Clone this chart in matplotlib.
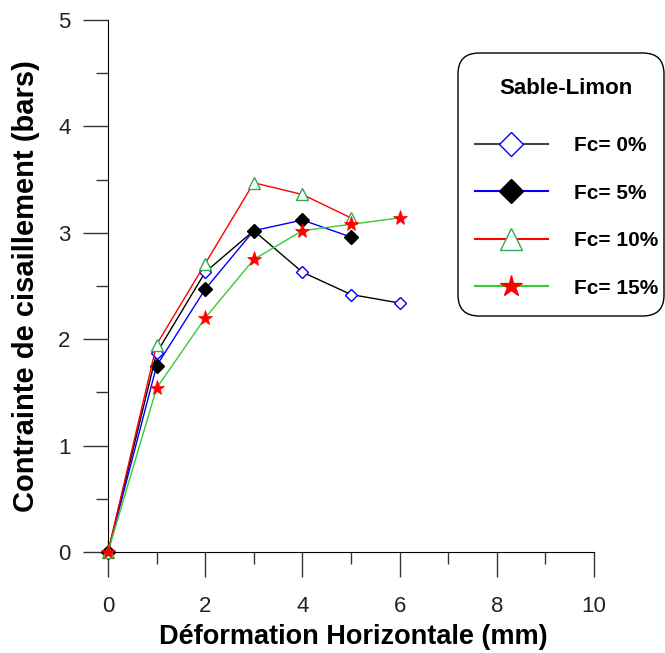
import matplotlib
matplotlib.use("Agg")
import matplotlib.pyplot as plt
from matplotlib.ticker import MultipleLocator
from matplotlib.lines import Line2D
from matplotlib.patches import FancyBboxPatch

plt.rcParams['font.family'] = ['Liberation Sans', 'DejaVu Sans']

x0 = [0, 1, 2, 3, 4, 5, 6]
fc0 = [0, 1.87, 2.63, 3.02, 2.63, 2.42, 2.34]
x5 = [0, 1, 2, 3, 4, 5]
fc5 = [0, 1.75, 2.47, 3.02, 3.12, 2.96]
x10 = [0, 1, 2, 3, 4, 5]
fc10 = [0, 1.95, 2.71, 3.47, 3.36, 3.14]
x15 = [0, 1, 2, 3, 4, 5, 6]
fc15 = [0, 1.54, 2.20, 2.75, 3.02, 3.08, 3.14]

labels = ['Fc= 0%', 'Fc= 5%', 'Fc= 10%', 'Fc= 15%']
green = '#33cc33'
tri_green = '#33aa55'

W, H = 665, 653
fig = plt.figure(figsize=(W/100, H/100), dpi=100)
ax = fig.add_axes([108/W, 1-552/H, 486/W, 532/H])

ax.plot(x0, fc0, color='black', lw=1, marker='D', ms=6.2, mfc='white',
        mec='blue', mew=1, zorder=3, clip_on=False)
ax.plot(x5, fc5, color='blue', lw=1, marker='D', ms=7, mfc='black',
        mec='black', zorder=3, clip_on=False)
ax.plot(x10, fc10, color='red', lw=1, marker='^', ms=9, mfc='white',
        mec=tri_green, mew=1, zorder=3, clip_on=False)
ax.plot(x15, fc15, color=green, lw=1, marker='*', ms=11, mfc='red',
        mec='red', mew=0.5, zorder=3, clip_on=False)

ax.set_xlim(0, 10)
ax.set_ylim(0, 5)
ax.spines['top'].set_visible(False)
ax.spines['right'].set_visible(False)
ax.xaxis.set_major_locator(MultipleLocator(2))
ax.xaxis.set_minor_locator(MultipleLocator(1))
ax.yaxis.set_major_locator(MultipleLocator(1))
ax.yaxis.set_minor_locator(MultipleLocator(0.5))
ax.tick_params(which='major', direction='out', length=18, width=1,
               labelsize=16, color='#333333')
ax.tick_params(which='minor', direction='out', length=8.6, width=1, color='#333333')
ax.tick_params(axis='x', which='major', pad=14)
ax.tick_params(axis='y', which='major', pad=9)
for lab in ax.get_xticklabels() + ax.get_yticklabels():
    lab.set_color('#222222')

ax.set_xlabel('Déformation Horizontale (mm)', fontsize=19.5, fontweight='bold')
ax.xaxis.set_label_coords(0.505, -0.135)
ax.xaxis.label.set_va('top')
ax.set_ylabel('Contrainte de cisaillement (bars)', fontsize=21, fontweight='bold')
ax.yaxis.set_label_coords(-0.14, 0.5)

# legend box drawn by hand (rounded frame, title), entries through legend()
frame = FancyBboxPatch((458/W, 1-316/H), 206/W, 263/H, transform=fig.transFigure,
                       boxstyle='round,pad=0,rounding_size=0.032',
                       fc='white', ec='black', lw=1, zorder=5)
fig.patches.append(frame)
fig.text(566/W, 1-88/H, 'Sable-Limon', fontsize=16, fontweight='bold',
         ha='center', va='center', zorder=6)

handles = [
    Line2D([], [], color='#444444', lw=1.5, marker='D', ms=12, mfc='white', mec='blue', mew=1),
    Line2D([], [], color='blue', lw=1.5, marker='D', ms=12, mfc='black', mec='black'),
    Line2D([], [], color='red', lw=1.5, marker='^', ms=16, mfc='white', mec=tri_green, mew=1),
    Line2D([], [], color=green, lw=1.5, marker='*', ms=16, mfc='red', mec='red'),
]
leg = fig.legend(handles=handles, labels=labels, loc='upper left',
                 bbox_to_anchor=(475/W, 1-136/H), frameon=False, fontsize=15,
                 handlelength=3.5, handletextpad=1.25, labelspacing=1.37,
                 borderpad=0, borderaxespad=0)
leg.set_zorder(7)
for t in leg.get_texts():
    t.set_fontweight('bold')

fig.savefig('out.png', dpi=100)
